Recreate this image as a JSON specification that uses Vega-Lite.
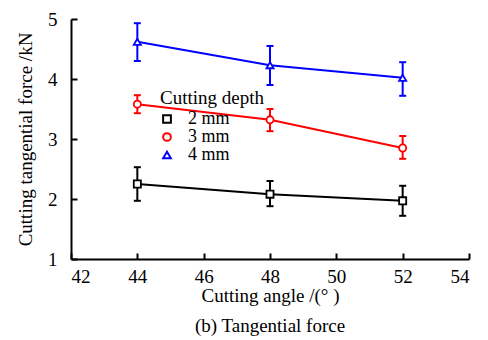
{
  "$schema": "https://vega.github.io/schema/vega-lite/v6.json",
  "width": 398,
  "height": 240,
  "autosize": {"type": "none"},
  "padding": {"left": 71, "top": 19, "right": 19, "bottom": 81},
  "background": "white",
  "title": {"text": "(b) Tangential force", "orient": "bottom", "anchor": "middle", "offset": 12, "font": "Liberation Serif", "fontSize": 19, "fontWeight": "normal", "color": "black"},
  "config": {
    "font": "Liberation Serif",
    "view": {"stroke": null},
    "style": {
      "guide-label": {"font": "Liberation Serif"},
      "guide-title": {"font": "Liberation Serif"}
    },
    "axis": {
      "grid": false,
      "domainColor": "black",
      "domainWidth": 2,
      "tickColor": "black",
      "tickWidth": 2,
      "tickSize": -6,
      "labelFont": "Liberation Serif",
      "labelFontSize": 19,
      "labelColor": "black",
      "titleFont": "Liberation Serif",
      "titleFontSize": 19,
      "titleFontWeight": "normal",
      "titleColor": "black"
    },
    "legend": {
      "labelFont": "Liberation Serif",
      "labelFontSize": 18,
      "labelColor": "black",
      "titleFont": "Liberation Serif",
      "titleFontSize": 19,
      "titleFontWeight": "normal",
      "titleColor": "black",
      "padding": 0
    }
  },
  "data": {
    "values": [
      {"angle": 44, "depth": "2 mm", "force": 2.25, "lo": 1.97, "hi": 2.53},
      {"angle": 48, "depth": "2 mm", "force": 2.08, "lo": 1.88, "hi": 2.30},
      {"angle": 52, "depth": "2 mm", "force": 1.97, "lo": 1.72, "hi": 2.22},
      {"angle": 44, "depth": "3 mm", "force": 3.58, "lo": 3.43, "hi": 3.73},
      {"angle": 48, "depth": "3 mm", "force": 3.32, "lo": 3.13, "hi": 3.50},
      {"angle": 52, "depth": "3 mm", "force": 2.85, "lo": 2.67, "hi": 3.05},
      {"angle": 44, "depth": "4 mm", "force": 4.62, "lo": 4.30, "hi": 4.93},
      {"angle": 48, "depth": "4 mm", "force": 4.23, "lo": 3.90, "hi": 4.55},
      {"angle": 52, "depth": "4 mm", "force": 4.02, "lo": 3.72, "hi": 4.28}
    ]
  },
  "encoding": {
    "x": {
      "field": "angle", "type": "quantitative",
      "scale": {"domain": [42, 54], "nice": false, "zero": false},
      "axis": {"values": [42, 44, 46, 48, 50, 52, 54], "format": "d", "title": "Cutting angle /(°  )", "labelPadding": 14, "titlePadding": 0, "labelFont": "Liberation Serif"}
    },
    "color": {
      "field": "depth", "type": "nominal",
      "scale": {"domain": ["2 mm", "3 mm", "4 mm"], "range": ["#000000", "#FF0000", "#0000FF"]},
      "legend": {
        "title": "Cutting depth",
        "orient": "none",
        "legendX": 89,
        "legendY": 70,
        "titlePadding": 2,
        "rowPadding": 0,
        "symbolSize": 60,
        "symbolStrokeWidth": 2,
        "symbolOffset": -2,
        "labelOffset": 12,
        "symbolFillColor": "white",
        "labelFont": "Liberation Serif"
      }
    }
  },
  "layer": [
    {
      "mark": {"type": "rule", "strokeWidth": 2},
      "encoding": {
        "y": {"field": "lo", "type": "quantitative"},
        "y2": {"field": "hi"}
      }
    },
    {
      "mark": {"type": "point", "shape": "stroke", "filled": false, "size": 49, "strokeWidth": 2, "opacity": 1},
      "encoding": {"y": {"field": "lo", "type": "quantitative"}}
    },
    {
      "mark": {"type": "point", "shape": "stroke", "filled": false, "size": 49, "strokeWidth": 2, "opacity": 1},
      "encoding": {"y": {"field": "hi", "type": "quantitative"}}
    },
    {
      "mark": {"type": "line", "strokeWidth": 2},
      "encoding": {
        "y": {
          "field": "force", "type": "quantitative",
          "scale": {"domain": [1, 5], "nice": false, "zero": false},
          "axis": {"values": [1, 2, 3, 4, 5], "format": "d", "title": "Cutting tangential force /kN", "labelPadding": 20, "titlePadding": 12, "labelFont": "Liberation Serif"}
        }
      }
    },
    {
      "mark": {"type": "point", "filled": false, "fill": "white", "fillOpacity": 1, "opacity": 1, "strokeWidth": 1.8, "size": 50},
      "encoding": {
        "y": {"field": "force", "type": "quantitative"},
        "shape": {"field": "depth", "type": "nominal", "scale": {"domain": ["2 mm", "3 mm", "4 mm"], "range": ["square", "circle", "triangle-up"]}, "legend": null}
      }
    }
  ]
}
